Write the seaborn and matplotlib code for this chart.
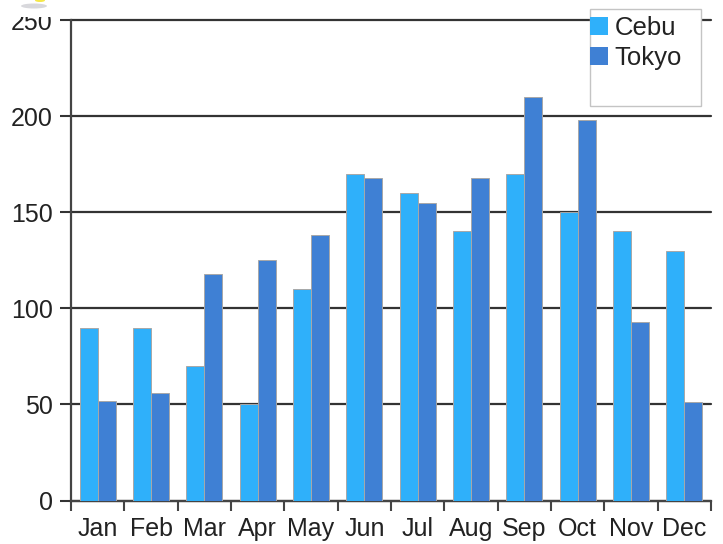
import matplotlib
matplotlib.use("Agg")
import matplotlib.pyplot as plt
from matplotlib.patches import Rectangle, Ellipse
from matplotlib.transforms import Bbox
import pandas as pd
import seaborn as sns

months = ["Jan", "Feb", "Mar", "Apr", "May", "Jun", "Jul", "Aug", "Sep", "Oct", "Nov", "Dec"]
cebu = [90, 90, 70, 50, 110, 170, 160, 140, 170, 150, 140, 130]
tokyo = [52, 56, 118, 125, 138, 168, 155, 168, 210, 198, 93, 51]
series_names = ["Cebu", "Tokyo"]
series_colors = ["#2FB0FA", "#3F80D4"]
y_ticks = [0, 50, 100, 150, 200, 250]

W, H = 723, 544
FS = 18
sns.set_theme(style="white")
plt.rcParams["font.family"] = ["Liberation Sans", "DejaVu Sans"]
plt.rcParams["text.color"] = "#222222"

df = pd.DataFrame({
    "month": months * 2,
    "value": cebu + tokyo,
    "series": [series_names[0]] * 12 + [series_names[1]] * 12,
})

fig = plt.figure(figsize=(W / 100, H / 100), dpi=100, facecolor="white")
ax = fig.add_axes([71 / W, 1 - 500.5 / H, 640 / W, 480.5 / H])

sns.barplot(data=df, x="month", y="value", hue="series", order=months,
            hue_order=series_names, palette=series_colors, saturation=1,
            width=0.68, gap=0, edgecolor="#a8a8a8", linewidth=0.7,
            ax=ax, legend=False, zorder=3)

ax.set_xlim(-0.5, 11.5)
ax.set_ylim(0, 250)
ax.set_xlabel("")
ax.set_ylabel("")
ax.set_yticks(y_ticks)
ax.set_axisbelow(True)
ax.yaxis.grid(True, color="#333333", linewidth=1.6)
ax.xaxis.grid(False)
for gl in ax.get_ygridlines():
    gl.set_clip_on(False)

# boundaries between months carry the tick marks; labels stay centred
ax.set_xticks(range(12))
ax.set_xticks([i - 0.5 for i in range(13)], minor=True)
ax.tick_params(axis="x", which="major", length=0, labelsize=FS, pad=12, labelcolor="#222222")
ax.tick_params(axis="x", which="minor", length=7, width=1.5, color="#444444", bottom=True)
ax.tick_params(axis="y", length=8, width=1.5, color="#333333", labelsize=FS, pad=5,
               left=True, labelcolor="#222222")

for side in ["top", "right"]:
    ax.spines[side].set_visible(False)
for side in ["left", "bottom"]:
    ax.spines[side].set_color("#444444")
    ax.spines[side].set_linewidth(1.6)

# the top label is cut off by the image's upper band
fig.canvas.draw()
clip = Bbox([[0, 0], [W, H - 17]])
for lab in ax.get_yticklabels():
    lab.set_clip_box(clip)
    lab.set_clip_on(True)

# legend box
ax.add_patch(Rectangle((590 / W, 1 - 106 / H), 111 / W, 97 / H, transform=fig.transFigure,
                       facecolor="white", edgecolor="#c4c4c4", linewidth=1,
                       clip_on=False, zorder=6))
handles = [Rectangle((0, 0), 1, 1, facecolor=c, edgecolor="none") for c in series_colors]
leg = ax.legend(handles, series_names, loc="upper left",
                bbox_to_anchor=(590 / W, 1 - 16 / H), bbox_transform=fig.transFigure,
                frameon=False, fontsize=FS + 0.5, borderpad=0, borderaxespad=0,
                handlelength=0.7, handleheight=0.7, handletextpad=0.25, labelspacing=0.24)
leg.set_zorder(7)

# small pin remnant at the upper-left corner
ax.add_patch(Ellipse((34 / W, 1 - 6 / H), 26 / W, 5 / H, transform=fig.transFigure,
                     facecolor="#d8d8dc", edgecolor="none", clip_on=False, zorder=1))
ax.add_patch(Ellipse((40 / W, 1 - 0.5 / H), 10 / W, 3 / H, transform=fig.transFigure,
                     facecolor="#f5e84a", edgecolor="none", clip_on=False, zorder=2))

fig.savefig("out.png", dpi=100, facecolor="white")
